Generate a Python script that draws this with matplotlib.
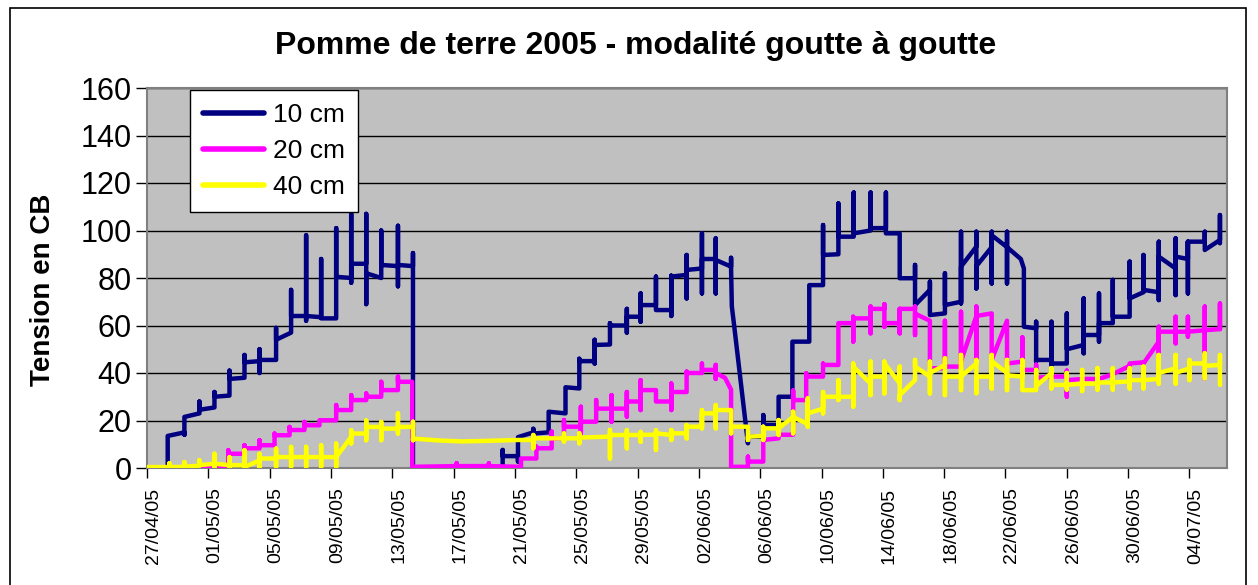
import datetime as dt
import matplotlib
matplotlib.use("Agg")
import matplotlib.pyplot as plt
from matplotlib.patches import Rectangle

plt.rcParams['font.family'] = ['Liberation Sans', 'DejaVu Sans']

# jours depuis le 27/04/05, tension en cb (lecture du graphique)
jours_10 = [0, 1.35, 1.35, 2.44, 2.44, 2.44, 3.42, 3.42, 3.42, 4.40, 4.40, 4.40,
            5.38, 5.38, 5.38, 6.36, 6.36, 6.36, 7.34, 7.34, 7.34, 7.34, 8.42, 8.42, 8.42,
            9.40, 9.40, 9.40, 9.40, 10.38, 10.38, 10.38, 10.38, 11.36, 11.36, 11.36,
            12.34, 12.34, 12.34, 13.32, 13.32, 13.32, 13.32, 14.30, 14.30, 14.30, 14.30,
            15.28, 15.28, 15.28, 15.28, 16.37, 16.37, 16.37, 16.37, 17.35, 17.35, 17.35,
            23.2, 23.2, 23.2, 23.2, 24.2, 24.2, 24.2, 24.2, 25.2, 25.2, 25.2, 26.2, 26.2,
            27.3, 27.3, 28.2, 28.2, 28.2, 29.2, 29.2, 29.2, 29.2, 30.2, 30.2, 30.2, 30.2,
            31.3, 31.3, 31.3, 31.3, 32.2, 32.2, 32.2, 32.2, 33.2, 33.2, 33.2,
            34.2, 34.2, 34.2, 34.2, 35.2, 35.2, 35.2, 35.2, 36.2, 36.2, 36.2, 36.2,
            37.1, 37.1, 37.1, 37.1, 38.1, 38.1, 38.1, 38.15, 38.3, 39.2, 39.2,
            40.2, 40.2, 40.2, 40.2, 41.2, 41.2, 42.1, 42.1, 43.2, 43.2, 44.1, 44.1, 44.1,
            45.1, 45.1, 45.1, 46.1, 46.1, 46.1, 47.2, 47.2, 47.2, 48.2, 48.2, 48.2,
            49.1, 49.1, 50.1, 50.1, 50.1, 51.07, 51.07, 51.07, 52.05, 52.05, 52.05, 52.05,
            53.1, 53.1, 53.1, 53.1, 54.1, 54.1, 54.1, 54.1, 55.1, 55.1, 55.1, 55.1,
            56.1, 56.1, 56.1, 56.1, 57.0, 57.2, 57.2, 58.0, 58.0, 58.0, 58.0,
            59.0, 59.0, 59.0, 59.0, 60.0, 60.0, 60.0, 60.0, 61.1, 61.1, 61.1, 61.1,
            62.1, 62.1, 62.1, 62.1, 63.0, 63.0, 63.0, 64.1, 64.1, 64.1, 64.1,
            65.0, 65.0, 65.0, 66.0, 66.0, 66.0, 66.0, 67.1, 67.1, 67.1, 67.1,
            67.9, 67.9, 67.9, 67.9, 69.0, 69.0, 69.0, 69.99, 69.99, 69.99]
tension_10 = [0, 0, 13.5, 15, 14, 21.5, 23, 28, 24.5, 25.5, 32, 30,
              30.5, 41, 37.5, 38, 47.6, 44.5, 45, 50, 40, 45.5, 45.5, 59, 54,
              57, 75, 62, 64, 64, 98, 62, 64, 63.5, 88, 63,
              63, 101, 80.5, 80, 107, 78, 86, 86, 107, 69, 82,
              80, 100, 80, 85.5, 85, 102, 76.5, 85.5, 85, 90.5, 0,
              0, 7.6, 1.3, 5, 5, 9, 2.7, 13, 15, 16.5, 14.5, 15, 23.7,
              23, 34, 33.5, 46, 45, 45, 54, 44, 51.8, 52, 61, 57, 60,
              60, 67, 57, 63.7, 63.7, 73.5, 61.6, 68.6, 68.6, 80.6, 66.5,
              66.5, 81, 64, 80.6, 81.3, 89.7, 71.4, 83.4, 84, 98.8, 73.5, 88,
              88, 96.7, 73.5, 87.6, 84.8, 88.5, 84, 68, 60, 10.4, 13.2,
              13.2, 22.3, 17.4, 18.1, 18.1, 30, 30, 53.2, 53.2, 77, 77, 102.3, 89.7,
              90, 111.4, 97.4, 97.4, 116, 98.8, 100, 116, 101, 101, 116, 98.8,
              98.8, 79.9, 79.9, 85.5, 68.6, 75, 78.5, 64.4, 65.1, 82, 65.8, 68.6,
              70, 99.5, 69.3, 84.8, 93.2, 99.5, 75.6, 85, 93, 99.5, 77.7, 98,
              93, 99.5, 77.7, 93, 88, 84, 59.5, 58.8, 61.6, 44.8, 45.5,
              45.5, 61.6, 43.4, 44, 44, 65.1, 44, 50, 51.8, 71.4, 48.3, 56,
              56, 73.5, 53.2, 61, 61, 79.2, 63.7, 63.7, 86.9, 63.7, 71.4,
              74, 89.7, 75, 74, 95.3, 70.7, 89, 84, 96.7, 72.8, 89,
              88, 95.3, 73.5, 95.3, 95.3, 99.5, 91.8, 96, 106.5, 94.6]

jours_20 = [0, 5.3, 5.3, 5.3, 6.36, 6.36, 6.36, 7.34, 7.34, 7.34, 8.32, 8.32, 8.32,
            9.3, 9.3, 9.3, 10.27, 10.27, 10.27, 11.25, 11.25, 12.34, 12.34, 12.34,
            13.32, 13.32, 13.32, 14.3, 14.3, 14.3, 15.28, 15.28, 15.28, 16.37, 16.37, 16.37,
            17.3, 17.3, 20.2, 20.2, 20.2, 22.3, 22.3, 22.3, 24.4, 24.4, 25.4, 25.4, 25.4,
            26.4, 26.4, 26.4, 27.2, 27.2, 27.2, 27.2, 28.3, 28.3, 28.3, 28.3,
            29.3, 29.3, 29.3, 30.3, 30.3, 30.3, 30.3, 31.3, 31.3, 31.3, 31.3,
            32.2, 32.2, 32.2, 32.2, 33.2, 33.2, 33.2, 34.2, 34.2, 34.2, 34.2,
            35.2, 35.2, 35.2, 36.2, 36.2, 36.2, 37.1, 37.1, 37.1, 37.1, 37.7, 38.1, 38.1,
            39.2, 39.2, 39.2, 40.2, 40.2, 41.2, 41.2, 42.15, 42.15, 42.15, 42.15,
            43.0, 43.0, 43.0, 43.0, 44.1, 44.1, 44.1, 45.1, 45.1, 46.07, 46.07, 46.07, 46.07,
            47.2, 47.2, 47.2, 47.2, 48.1, 48.1, 48.1, 48.1, 49.1, 49.1, 49.1, 49.1,
            50.1, 50.1, 50.1, 50.1, 51.07, 51.07, 52.05, 52.05, 52.05,
            53.1, 53.1, 53.1, 54.1, 54.1, 54.1, 54.1, 55.1, 55.1, 55.1, 56.1, 56.1,
            57.1, 57.1, 57.1, 57.1, 58.0, 58.0, 58.0, 58.0, 59.0, 60.0, 60.0, 60.0, 60.0,
            61.1, 62.1, 63.0, 64.1, 64.1, 65.0, 65.0, 66.0, 66.0, 66.0, 66.0,
            67.1, 67.1, 67.1, 67.1, 67.9, 67.9, 67.9, 67.9, 69.0, 69.0, 69.0, 69.0,
            69.99, 69.99, 69.99]
tension_20 = [0, 0, 7.5, 6, 6, 9.6, 8.3, 8.3, 11.7, 9.6, 9.6, 14.5, 13.8,
              13.8, 17.3, 16, 16, 19.4, 18, 18, 20.1, 20.1, 26.5, 24.4,
              24.4, 30.7, 28.6, 28.6, 31.4, 30, 30, 36.3, 32.8, 32.8, 38.5, 36.3,
              36.3, 0.5, 0.8, 2, 0.8, 0.8, 2, 0.8, 0.5, 4, 4, 9, 8.3,
              8.3, 15.3, 12.5, 12.5, 20.2, 14.6, 17.4, 17.4, 25.8, 14.6, 19.5,
              19.5, 28.6, 25, 25, 30.7, 19.5, 25, 25, 32, 21.6, 28,
              28, 37, 24.4, 32.8, 32.8, 32.8, 28, 28, 35.6, 24.4, 32,
              32, 40.6, 40, 40, 44, 41.3, 41.3, 43.4, 37.5, 40, 38, 33, 0.5,
              0.5, 4.8, 2.7, 2.7, 11.8, 12.5, 14, 14, 32.6, 23.8, 28.6,
              28.6, 39.9, 30, 38.5, 38.5, 44, 43.4, 43.4, 61, 61, 63.7, 53.2, 63,
              63, 68, 56.7, 67, 67, 69, 59.5, 61, 61, 67, 56.7, 67,
              67, 68, 56, 65, 62, 42, 42, 62, 42.7,
              42.7, 65.8, 45, 64, 68, 45.5, 64, 65.1, 65.1, 45.5, 62, 44,
              44.8, 55, 40.6, 41.3, 41.3, 43.5, 37.3, 38, 38.5, 38.5, 41, 30, 37,
              37.5, 37.5, 39.5, 43, 44, 44.5, 44, 53.2, 59.5, 48.5, 57.4,
              57.4, 63.7, 52.5, 57.4, 57.4, 63.7, 55.3, 57.4, 58, 68, 37.8, 58,
              58.5, 69.3, 58.5]

jours_40 = [0, 1.46, 1.46, 1.46, 2.44, 2.44, 2.44, 3.42, 3.42, 3.42, 4.4, 4.4, 4.4, 4.4,
            5.38, 5.38, 5.38, 5.38, 6.36, 6.36, 6.36, 7.34, 7.34, 7.34, 7.34,
            8.42, 8.42, 8.42, 8.42, 9.4, 9.4, 9.4, 9.4, 10.38, 10.38, 10.38, 10.38,
            11.36, 11.36, 11.36, 11.36, 12.34, 12.34, 12.34, 12.34,
            13.32, 13.32, 13.32, 13.32, 14.3, 14.3, 14.3, 14.3, 15.28, 15.28, 15.28, 15.28,
            16.37, 16.37, 16.37, 16.37, 17.35, 17.35, 17.35, 17.35,
            19.0, 20.5, 22.0, 24.2, 25.2, 25.2, 25.2, 25.2, 27.2, 27.2, 27.2, 27.2,
            28.2, 28.2, 28.2, 28.2, 30.2, 30.2, 30.2, 30.2, 31.3, 31.3, 31.3, 31.3,
            32.2, 32.2, 32.2, 32.2, 33.2, 33.2, 33.2, 33.2,
            34.2, 34.2, 34.2, 34.2, 35.2, 35.2, 35.2, 35.2, 36.2, 36.2, 36.2, 36.2,
            37.1, 37.1, 37.1, 37.1, 38.1, 38.1, 38.1, 39.2, 39.2, 39.2, 39.2,
            40.2, 40.2, 40.2, 40.2, 41.2, 41.2, 41.2, 41.2, 42.15, 42.15, 42.15, 42.15,
            43.1, 43.1, 43.1, 43.1, 44.1, 44.1, 44.1, 44.1, 45.1, 45.1, 45.1, 45.1,
            46.07, 46.07, 46.07, 46.07, 47.2, 47.2, 47.2, 47.2, 48.1, 48.1, 48.1, 48.1,
            49.1, 49.1, 49.1, 49.1, 50.1, 50.1, 50.1, 50.1, 51.07, 51.07, 51.07, 51.07,
            52.05, 52.05, 52.05, 52.05, 53.1, 53.1, 53.1, 53.1, 54.1, 54.1, 54.1, 54.1,
            55.1, 55.1, 55.1, 55.1, 56.1, 56.1, 56.1, 56.1, 57.1, 57.1, 57.1,
            58.0, 58.0, 58.0, 58.0, 59.0, 59.0, 59.0, 59.0, 60.0, 60.0, 60.0, 60.0,
            61.0, 61.0, 61.0, 61.0, 62.0, 62.0, 62.0, 62.0, 63.0, 63.0, 63.0, 63.0,
            64.1, 64.1, 64.1, 64.1, 65.0, 65.0, 65.0, 65.0, 66.0, 66.0, 66.0, 66.0,
            67.1, 67.1, 67.1, 67.1, 68.0, 68.0, 68.0, 68.0, 69.0, 69.0, 69.0, 69.0,
            69.99, 69.99, 69.99]
tension_40 = [0.4, 0.4, 2, 0.4, 0.5, 2.5, 0.5, 1, 3.2, 1.2, 1.8, 6, 0.4, 1.8,
              1.2, 4.5, 0.4, 1.2, 1.2, 7.5, 0.4, 3.2, 6, 0.4, 4,
              4, 8.2, 0.4, 4.6, 4.6, 8.9, 0.4, 4.6, 4.6, 8.9, 0.4, 4.6,
              4.6, 9.6, 0.4, 4.6, 4.6, 10.3, 0.4, 4.6,
              13.1, 15.9, 10.3, 14.5, 14.5, 20, 11.7, 17.3, 17.3, 19.4, 11.7, 16.6,
              16.6, 23, 14.5, 17.3, 17.3, 19.5, 11.7, 12.4,
              11.6, 11.2, 11.4, 11.8, 11.8, 13.9, 8.3, 12.5, 12.5, 14.6, 11.1, 12.5,
              12.5, 14.6, 10.4, 12.8, 13.2, 16, 4, 13.9, 13.9, 15.9, 8.3, 13.9,
              13.9, 15.2, 11, 14, 14, 15.9, 7.6, 14.6,
              13.9, 16, 11.8, 14.6, 14.6, 18.1, 12.5, 17.4, 17.4, 24.4, 16.7, 23,
              23, 26.5, 16.7, 24.4, 24.4, 14.6, 17.4, 17.4, 16.7, 11.8, 13.2,
              13.5, 17.4, 11.8, 16.7, 16.7, 20.2, 13.9, 16.7, 21.5, 23.7, 14.6, 21.5,
              18.5, 29.3, 17.4, 23, 25, 32, 23, 30, 30, 37, 28.6, 30,
              30, 44, 25.8, 42.7, 35.6, 44.8, 30.7, 38.5, 38.5, 44.8, 31.4, 44.1,
              35.6, 42.7, 28.6, 30.7, 37, 45.5, 37, 42.7, 38.5, 44.8, 31.4, 40,
              43.4, 46.2, 30.7, 38.5, 38.5, 47.6, 32.8, 38.5, 44, 45.5, 31.5, 38.5,
              38.5, 47.6, 33.5, 45, 40, 45.5, 32.8, 39, 38.5, 45.5, 32.8,
              32.8, 41.3, 32.8, 34.5, 40, 42, 33.5, 35, 35, 40, 33, 35,
              35.5, 41.3, 32.4, 35.5, 35.5, 42, 33, 36, 36, 42, 33, 36,
              36.5, 42, 33.5, 37, 37, 42.7, 33.5, 37, 37.5, 47.6, 35.5, 40,
              42, 47.6, 35.5, 40, 42, 45.5, 37, 44, 44, 48.3, 37.8, 43,
              43.4, 47.6, 35]

series = ["10 cm", "20 cm", "40 cm"]
couleurs = ["#000080", "#FF00FF", "#FFFF00"]

debut = dt.date(2005, 4, 27)
pos_ticks = list(range(0, 69, 4))
etiquettes = [(debut + dt.timedelta(days=k)).strftime("%d/%m/%y") for k in pos_ticks]

fig = plt.figure(figsize=(12.58, 5.85), dpi=100)
ax = fig.add_axes([147 / 1258, 1 - 468 / 585, 1080 / 1258, 380 / 585])

# cadre du graphique (façon Excel)
fig.patches.append(Rectangle((10 / 1258, -0.05), 1236 / 1258, 1.05 - 8 / 585,
                             transform=fig.transFigure, fill=False,
                             edgecolor="black", linewidth=1.2))

ax.set_facecolor("#C0C0C0")
for s in ax.spines.values():
    s.set_color("#808080")
    s.set_linewidth(1.5)

donnees = [(jours_10, tension_10), (jours_20, tension_20), (jours_40, tension_40)]
for (x, y), nom, c in zip(donnees, series, couleurs):
    ax.plot(x, y, color=c, linewidth=3.2, label=nom, solid_joinstyle="round",
            solid_capstyle="round", zorder=3)

ax.set_ylim(0, 160)
ax.set_yticks(range(0, 161, 20))
ax.set_xlim(0, 70.45)
ax.set_xticks(pos_ticks)
ax.set_xticklabels([])
ax.set_xticks([p + 0.42 for p in pos_ticks], minor=True)
ax.set_xticklabels(etiquettes, minor=True, rotation=90, fontsize=14)
ax.tick_params(axis="x", which="minor", length=0, pad=14)
ax.tick_params(axis="x", which="major", length=7, width=1, color="black", direction="out")
ax.tick_params(axis="y", length=8, width=1, labelsize=22, pad=3)
ax.yaxis.grid(True, color="black", linewidth=1)
ax.set_axisbelow(True)

ax.set_ylabel("Tension en CB", fontsize=20, fontweight="bold")
ax.yaxis.set_label_coords(-0.084, 0.468)
fig.text(0.505, 1 - 46 / 585, "Pomme de terre 2005 - modalité goutte à goutte",
         ha="center", va="center", fontsize=23, fontweight="bold")

leg = ax.legend(loc="upper left", bbox_to_anchor=(43 / 1080, 0.995), fontsize=19,
                frameon=True, fancybox=False, framealpha=1, edgecolor="black",
                handlelength=2.3, handletextpad=0.35, borderpad=0.5, labelspacing=0.45,
                borderaxespad=0)
leg.get_frame().set_linewidth(1)
for l in leg.get_lines():
    l.set_linewidth(4)

fig.savefig("out.png", dpi=100)
